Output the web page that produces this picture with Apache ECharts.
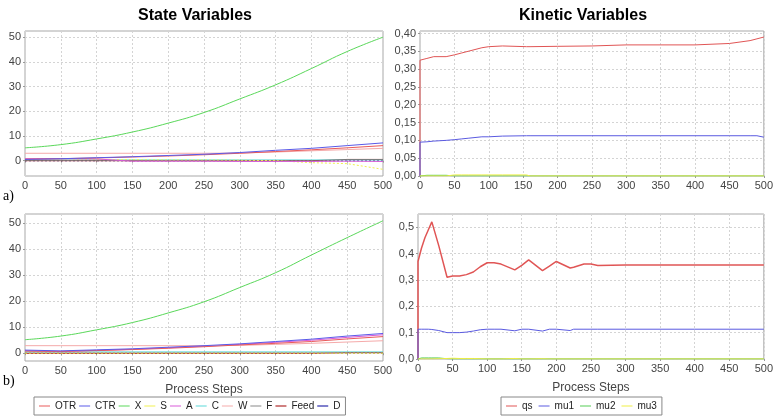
<!DOCTYPE html>
<html>
<head>
<meta charset="utf-8">
<script src="https://cdn.jsdelivr.net/npm/echarts@6/dist/echarts.min.js"></script>
<style>
  html, body {margin:0; padding:0; background:#fff;}
  #chart {width:776px; height:419px;}
</style>
</head>
<body>
<div id="chart"></div>
<script>
// process steps for the state variable plots
var stateSteps = [0, 50, 100, 150, 200, 250, 300, 350, 400, 450, 500];

// a) state variables
var OTR_a  = [0.6, 0.8, 1.1, 1.5, 1.9, 2.4, 3.0, 3.7, 4.4, 5.2, 6.1];
var CTR_a  = [0.5, 0.8, 1.2, 1.6, 2.1, 2.6, 3.3, 4.2, 5.0, 6.1, 7.2];
var X_a    = [5.2, 6.5, 8.8, 11.6, 15.2, 19.5, 25.0, 30.7, 37.3, 44.2, 50.0];
var S_a    = [0.5, 0.8, 0.5, 0.4, 0.3, 0.3, 0.2, 0.0, -0.8, -1.2, -3.5];
var A_a    = [0.8, 0.8, 0.7, -0.2, -0.2, -0.2, -0.3, -0.3, -0.3, -0.2, -0.3];
var C_a    = [0.3, 0.3, 0.3, 0.3, 0.3, 0.3, 0.3, 0.3, 0.3, 0.3, 0.3];
var W_a    = [3.0, 3.0, 3.0, 3.0, 3.0, 3.0, 3.1, 3.5, 4.0, 4.5, 5.0];
var F_a    = [0, 0, 0, 0, 0, 0, 0, 0, 0, 0, 0];
var Feed_a = [0, 0, 0, 0, 0, 0, 0, 0, 0, 0.5, 0.5];
var D_a    = [0, 0, 0, 0, 0, 0, 0, 0, 0, 0, 0];

// b) state variables
var OTR_b  = [0.8, 0.7, 1.0, 1.4, 1.9, 2.5, 3.2, 3.8, 4.5, 5.5, 6.4];
var CTR_b  = [1.2, 0.9, 1.3, 1.7, 2.3, 2.9, 3.6, 4.5, 5.4, 6.6, 7.6];
var X_b    = [5.2, 6.6, 9.0, 11.8, 15.5, 19.8, 25.3, 31.0, 37.8, 44.5, 51.0];
var S_b    = [0, 0, 0, 0, 0, 0, 0, 0, 0, 0, 0];
var A_b    = [1.0, 0.6, 1.1, 1.5, 2.1, 2.7, 3.4, 4.2, 5.0, 6.1, 7.1];
var C_b    = [0.5, 0.5, 0.5, 0.5, 0.5, 0.5, 0.5, 0.5, 0.5, 0.5, 0.5];
var W_b    = [2.9, 2.9, 2.9, 2.9, 2.9, 2.9, 3.0, 3.4, 3.8, 4.3, 4.8];
var F_b    = [0, 0, 0, 0, 0, 0, 0, 0, 0, 0, 0];
var Feed_b = [0, 0, 0, 0, 0, 0, 0, 0, 0, 0.2, 0.2];
var D_b    = [0, 0, 0, 0, 0, 0, 0, 0, 0, 0, 0];

// a) kinetic variables
var kinAx = [0, 0, 10, 20, 38, 40, 50, 60, 70, 80, 90, 100, 120, 155, 160, 200, 250, 300, 350, 400, 450, 480, 490, 500];
var qs_a  = [0, 0.325, 0.33, 0.335, 0.335, 0.336, 0.34, 0.345, 0.35, 0.355, 0.36, 0.363, 0.365, 0.363, 0.363, 0.364, 0.365, 0.368, 0.368, 0.368, 0.372, 0.38, 0.385, 0.39];
var mu1_a = [0, 0.095, 0.096, 0.098, 0.1, 0.1, 0.102, 0.104, 0.106, 0.108, 0.11, 0.11, 0.112, 0.113, 0.113, 0.113, 0.113, 0.113, 0.113, 0.113, 0.113, 0.113, 0.113, 0.109];
var mu2_a = [0, 0.002, 0.002, 0.002, 0.002, 0, 0, 0, 0, 0, 0, 0, 0, 0, 0, 0, 0, 0, 0, 0, 0, 0, 0, 0];
var mu3_a = [0, 0, 0, 0, 0, 0, 0.003, 0.003, 0.003, 0.003, 0.003, 0.003, 0.003, 0.003, 0, 0, 0, 0, 0, 0, 0, 0, 0, 0];

// b) kinetic variables
var kinBx = [0, 0, 5, 10, 15, 20, 22, 30, 42, 50, 60, 70, 80, 90, 100, 110, 120, 140, 150, 160, 180, 190, 200, 220, 225, 240, 250, 260, 300, 400, 500];
var qs_b  = [0, 0.37, 0.42, 0.46, 0.49, 0.52, 0.515, 0.43, 0.31, 0.315, 0.315, 0.32, 0.33, 0.35, 0.365, 0.365, 0.36, 0.338, 0.355, 0.376, 0.335, 0.352, 0.37, 0.345, 0.348, 0.36, 0.36, 0.355, 0.357, 0.357, 0.357];
var mu1_b = [0, 0.113, 0.113, 0.113, 0.113, 0.112, 0.11, 0.108, 0.1, 0.1, 0.1, 0.102, 0.106, 0.111, 0.113, 0.113, 0.113, 0.107, 0.113, 0.113, 0.106, 0.113, 0.113, 0.108, 0.113, 0.113, 0.113, 0.113, 0.113, 0.113, 0.113];
var mu2_b = [0, 0.003, 0.004, 0.004, 0.004, 0.004, 0.004, 0.004, 0.001, 0, 0, 0, 0, 0, 0, 0, 0, 0, 0, 0, 0, 0, 0, 0, 0, 0, 0, 0, 0, 0, 0];
var mu3_b = [0, 0, 0, 0, 0, 0, 0, 0.001, 0.002, 0.003, 0.002, 0.002, 0.002, 0.001, 0, 0, 0, 0.002, 0, 0, 0.001, 0, 0, 0, 0, 0, 0, 0, 0, 0, 0];

var stateNames = ['OTR', 'CTR', 'X', 'S', 'A', 'C', 'W', 'F', 'Feed', 'D'];
var stateColors = ['#e85a5a', '#5a5ae8', '#5ad85a', '#f0f050', '#d85ad8', '#5ad8d8', '#f5aaaa', '#888888', '#a00000', '#00009a'];
var stateA = [OTR_a, CTR_a, X_a, S_a, A_a, C_a, W_a, F_a, Feed_a, D_a];
var stateB = [OTR_b, CTR_b, X_b, S_b, A_b, C_b, W_b, F_b, Feed_b, D_b];
// zero-level series are drawn dotted so they don't hide each other
var dotted = {S: true, F: true, D: true};
// draw order for the state plots (later on top)
var drawOrder = [9, 7, 8, 5, 3, 4, 6, 0, 1, 2];

var kinNames = ['qs', 'mu1', 'mu2', 'mu3'];
var kinColors = ['#e05555', '#5a5ae0', '#55cc55', '#eeee44'];
var kinA = [qs_a, mu1_a, mu2_a, mu3_a];
var kinB = [qs_b, mu1_b, mu2_b, mu3_b];

function pairs(xs, ys) {
    return xs.map(function (x, i) { return [x, ys[i]]; });
}

var font = 'Liberation Sans, Arial, sans-serif';

function xAxis(gridIndex, withName) {
    var ax = {
        type: 'value', gridIndex: gridIndex, min: 0, max: 500, interval: 50,
        axisLine: {show: false},
        axisTick: {show: true, length: 2, lineStyle: {color: '#999'}},
        axisLabel: {fontSize: 11, color: '#444', margin: 4, fontFamily: font},
        splitLine: {show: true, lineStyle: {color: '#d4d4d4', type: [2, 2]}}
    };
    if (withName) {
        ax.name = 'Process Steps';
        ax.nameLocation = 'middle';
        ax.nameGap = 23;
        ax.nameTextStyle = {fontSize: 12, color: '#444', fontFamily: font};
    }
    return ax;
}

function yAxis(gridIndex, opts) {
    var ax = {
        type: 'value', gridIndex: gridIndex,
        axisLine: {show: false},
        axisTick: {show: true, length: 2, lineStyle: {color: '#999'}},
        axisLabel: {fontSize: 11, color: '#444', margin: 4, fontFamily: font, showMinLabel: false, showMaxLabel: false},
        splitLine: {show: true, lineStyle: {color: '#d4d4d4', type: [2, 2]}}
    };
    for (var k in opts) ax[k] = opts[k];
    return ax;
}

var series = [];
[[0, stateA], [2, stateB]].forEach(function (p) {
    drawOrder.forEach(function (i) {
        var n = stateNames[i];
        series.push({name: n, type: 'line', xAxisIndex: p[0], yAxisIndex: p[0], symbol: 'none', smooth: i === 2,
            data: pairs(stateSteps, p[1][i]),
            lineStyle: {width: 1, color: stateColors[i], type: dotted[n] ? [2, 2] : 'solid'},
            itemStyle: {color: stateColors[i]}});
    });
});
[[1, kinAx, kinA], [3, kinBx, kinB]].forEach(function (p) {
    kinNames.forEach(function (n, i) {
        series.push({name: n, type: 'line', xAxisIndex: p[0], yAxisIndex: p[0], symbol: 'none',
            data: pairs(p[1], p[2][i]),
            lineStyle: {width: (p[0] === 3 && i === 0) ? 1.5 : 1, color: kinColors[i]},
            itemStyle: {color: kinColors[i]}});
    });
});

var gridStyle = {show: true, borderColor: '#a8a8a8', borderWidth: 1, backgroundColor: '#fff'};

var legendBase = {top: 397, padding: [4, 5], icon: 'rect', itemWidth: 11, itemHeight: 1,
    borderColor: '#888', borderWidth: 1, borderRadius: 0,
    textStyle: {fontSize: 10, color: '#222', fontFamily: font}};

var option = {
    animation: false,
    backgroundColor: '#fff',
    title: [
        {text: 'State Variables', left: 195, top: 8, textAlign: 'center', padding: 0,
            textStyle: {fontSize: 16, fontWeight: 'bold', color: '#000', fontFamily: font}},
        {text: 'Kinetic Variables', left: 583, top: 8, textAlign: 'center', padding: 0,
            textStyle: {fontSize: 16, fontWeight: 'bold', color: '#000', fontFamily: font}},
        {text: 'a)', left: 3, top: 189, padding: 0,
            textStyle: {fontSize: 14, fontWeight: 'normal', color: '#000', fontFamily: 'Liberation Serif, serif'}},
        {text: 'b)', left: 3, top: 374, padding: 0,
            textStyle: {fontSize: 14, fontWeight: 'normal', color: '#000', fontFamily: 'Liberation Serif, serif'}}
    ],
    legend: [
        Object.assign({data: stateNames, left: 34, itemGap: 3}, legendBase),
        Object.assign({data: kinNames, left: 501, itemGap: 6}, legendBase)
    ],
    grid: [
        Object.assign({left: 25, top: 31, width: 358, height: 145}, gridStyle),
        Object.assign({left: 420, top: 31, width: 351, height: 145}, gridStyle),
        Object.assign({left: 25, top: 214, width: 358, height: 147}, gridStyle),
        Object.assign({left: 418, top: 214, width: 351, height: 145}, gridStyle)
    ],
    xAxis: [xAxis(0, false), xAxis(1, false), xAxis(2, true), xAxis(3, true)],
    yAxis: [
        yAxis(0, {min: -6.2, max: 52.5, splitNumber: 5}),
        yAxis(1, {min: 0, max: 0.407, interval: 0.05,
            axisLabel: {fontSize: 11, color: '#444', margin: 4, fontFamily: font, showMaxLabel: false,
                formatter: function (v) { return v.toFixed(2).replace('.', ','); }}}),
        yAxis(2, {min: -3, max: 53.6, splitNumber: 5}),
        yAxis(3, {min: 0, max: 0.55, interval: 0.1,
            axisLabel: {fontSize: 11, color: '#444', margin: 4, fontFamily: font, showMaxLabel: false,
                formatter: function (v) { return v.toFixed(1).replace('.', ','); }}})
    ],
    series: series
};

var myChart = echarts.init(document.getElementById('chart'));
myChart.setOption(option);
</script>
</body>
</html>
